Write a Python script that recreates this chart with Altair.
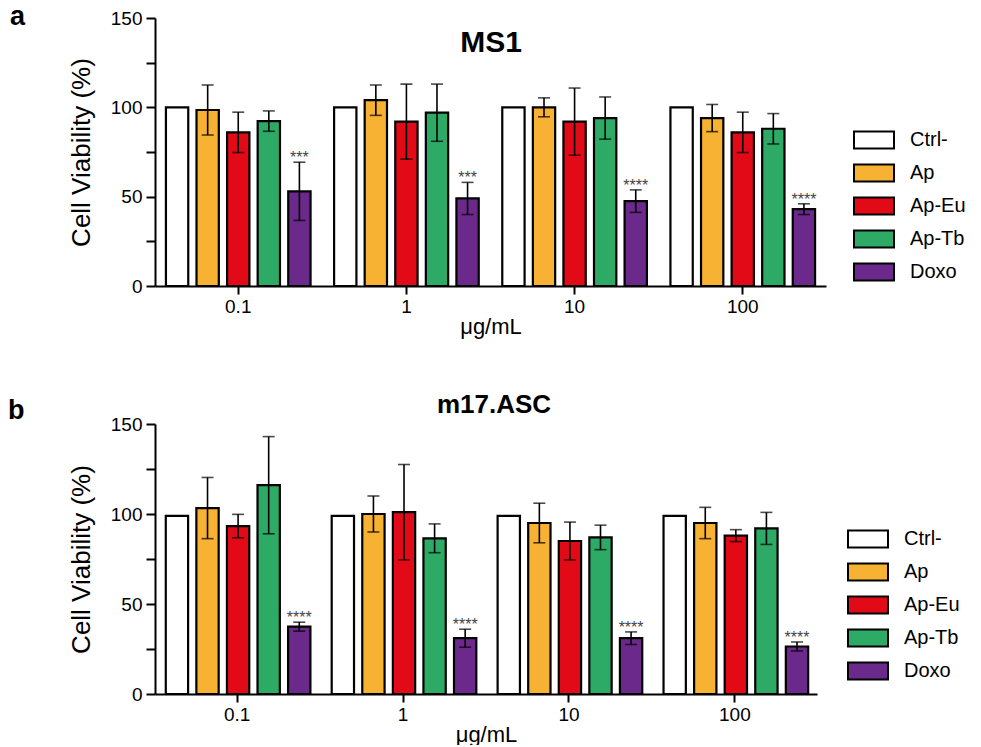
import altair as alt
import pandas as pd

concs = ["0.1", "1", "10", "100"]
groups = ["Ctrl-", "Ap", "Ap-Eu", "Ap-Tb", "Doxo"]
colors = ["#FFFFFF", "#F7B234", "#E30A17", "#2DAB66", "#6B2A8B"]

# MS1 panel
ms1_ctrl = [100, 100, 100, 100]
ms1_ap = [98.5, 104, 100, 94]
ms1_apeu = [86, 92, 92, 86]
ms1_aptb = [92.3, 97, 94, 88]
ms1_doxo = [53, 49, 47.5, 43]
ms1_ctrl_err = [0, 0, 0, 0]
ms1_ap_err = [14, 8.5, 5.3, 7.6]
ms1_apeu_err = [11.3, 21, 18.8, 11.3]
ms1_aptb_err = [5.7, 16, 11.8, 8.5]
ms1_doxo_err = [16.3, 9, 6.3, 3]
ms1_doxo_sig = ["***", "***", "****", "****"]

# m17.ASC panel
m17_ctrl = [99, 99, 99, 99]
m17_ap = [103.3, 100, 95, 95]
m17_apeu = [93.3, 101, 85, 88]
m17_aptb = [116, 86.5, 87, 92]
m17_doxo = [37.4, 31, 31, 26.4]
m17_ctrl_err = [0, 0, 0, 0]
m17_ap_err = [17, 10, 11, 8.7]
m17_apeu_err = [6.5, 26.5, 10.5, 3.3]
m17_aptb_err = [27, 8, 6.8, 8.9]
m17_doxo_err = [2.5, 5, 3.5, 2.5]
m17_doxo_sig = ["****", "****", "****", "****"]

FONT = "Liberation Sans"


def build_df(means, errs, sig):
    rows = []
    for g, m, e in zip(groups, means, errs):
        for i, c in enumerate(concs):
            rows.append({
                "conc": c, "group": g, "value": m[i], "err": e[i],
                "lo": m[i] - e[i], "hi": m[i] + e[i],
                "sig": sig[i] if g == "Doxo" else "",
            })
    return pd.DataFrame(rows)


df_ms1 = build_df([ms1_ctrl, ms1_ap, ms1_apeu, ms1_aptb, ms1_doxo],
                  [ms1_ctrl_err, ms1_ap_err, ms1_apeu_err, ms1_aptb_err, ms1_doxo_err],
                  ms1_doxo_sig)
df_m17 = build_df([m17_ctrl, m17_ap, m17_apeu, m17_aptb, m17_doxo],
                  [m17_ctrl_err, m17_ap_err, m17_apeu_err, m17_aptb_err, m17_doxo_err],
                  m17_doxo_sig)

RECT = "M-2,-0.85H2V0.85H-2Z"


def panel(df, w, h, title, title_x, title_y, title_size, letter, letter_x, letter_y, leg_x, leg_y):
    x = alt.X("conc:N", sort=concs,
              scale=alt.Scale(paddingInner=0.14, paddingOuter=0.065),
              axis=alt.Axis(title="μg/mL", labelAngle=0, tickSize=8, labelPadding=3,
                            titlePadding=0))
    xo = alt.XOffset("group:N", sort=groups,
                     scale=alt.Scale(domain=groups, paddingInner=0.27, paddingOuter=0))
    y = alt.Y("value:Q", scale=alt.Scale(domain=[0, 150], nice=False),
              axis=alt.Axis(title="Cell Viability (%)", values=[0, 25, 50, 75, 100, 125, 150],
                            labelExpr="datum.value % 50 == 0 ? datum.label : ''",
                            tickSize=9, labelPadding=4, titlePadding=16, titleFontSize=26))
    base = alt.Chart(df).encode(x=x, xOffset=xo)
    bars = base.mark_bar(stroke="black", strokeWidth=2.2).encode(
        y=y,
        color=alt.Color("group:N", sort=groups,
                        scale=alt.Scale(domain=groups, range=colors),
                        legend=alt.Legend(title=None, orient="none", legendX=leg_x, legendY=leg_y,
                                          symbolType=RECT, symbolSize=400,
                                          symbolStrokeColor="black", symbolStrokeWidth=2,
                                          symbolOpacity=1,
                                          labelFontSize=20, labelFont=FONT, labelColor="black",
                                          labelOffset=25, rowPadding=7)),
    )
    eb = base.transform_filter("datum.err > 0")
    rule = eb.mark_rule(color="black", strokeWidth=1.6).encode(y="lo:Q", y2="hi:Q")
    cap_hi = eb.mark_tick(color="black", thickness=1.6, size=12).encode(y="hi:Q")
    cap_lo = eb.mark_tick(color="black", thickness=1.6, size=12).encode(y="lo:Q")
    stars = base.transform_filter("datum.sig != ''").mark_text(
        baseline="bottom", fontSize=16, color="#444444", font=FONT, dy=4
    ).encode(y="hi:Q", text="sig:N")
    tdf = pd.DataFrame({"t": [title]})
    ttl = alt.Chart(tdf).mark_text(fontSize=title_size, fontWeight="bold", font=FONT,
                                   color="black", baseline="middle", align="center").encode(
        text="t:N", x=alt.value(title_x), y=alt.value(title_y))
    ldf = pd.DataFrame({"t": [letter]})
    let = alt.Chart(ldf).mark_text(fontSize=27, fontWeight="bold", font=FONT,
                                   color="black", baseline="alphabetic", align="left").encode(
        text="t:N", x=alt.value(letter_x), y=alt.value(letter_y))
    return alt.layer(bars, rule, cap_hi, cap_lo, stars, ttl, let).properties(width=w, height=h)


pa = panel(df_ms1, 671, 268, "MS1", 336, 25, 30, "a", -145, 7, 708, 111)
pb = panel(df_m17, 662, 270, "m17.ASC", 339, -19, 26, "b", -147, -5, 702, 104)

chart = alt.vconcat(pa, pb, spacing=55).resolve_scale(color="independent").resolve_legend(
    color="independent"
).properties(padding={"left": 0, "top": -5, "right": 0, "bottom": 0}).configure_view(
    strokeWidth=0
).configure_axis(
    labelFont=FONT, titleFont=FONT, labelFontSize=19, titleFontSize=22,
    titleFontWeight="normal", labelColor="black", titleColor="black",
    domainColor="black", domainWidth=2, tickColor="black", tickWidth=2, grid=False
)

chart.save("out.html", embed_options={"renderer": "svg", "actions": False})
